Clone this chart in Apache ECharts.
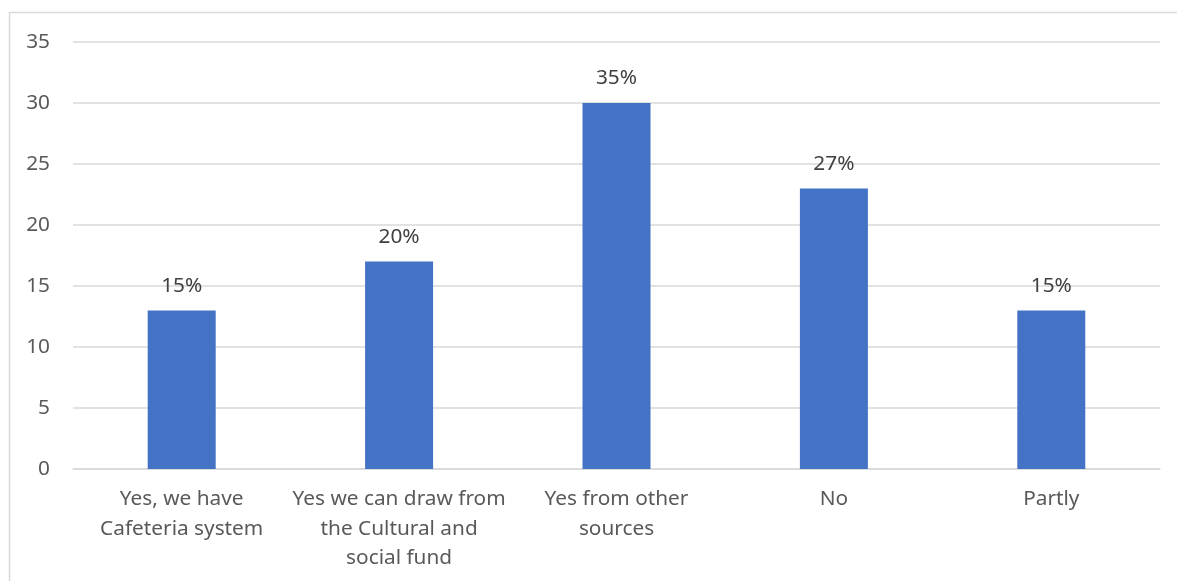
<!DOCTYPE html>
<html>
<head>
<meta charset="utf-8">
<script src="https://cdn.jsdelivr.net/npm/echarts@6/dist/echarts.min.js"></script>
<style>html,body{margin:0;padding:0;background:#fff;}#c{width:1177px;height:581px;}</style>
</head>
<body>
<div id="c"></div>
<script>
const categories = ["Yes, we have\nCafeteria system", "Yes we can draw from\nthe Cultural and\nsocial fund", "Yes from other\nsources", "No", "Partly"];
const values = [13, 17, 30, 23, 13];
const percentLabels = ["15%", "20%", "35%", "27%", "15%"];
const yMin = 0, yMax = 35, yStep = 5;

const FONT = "Noto Sans";
const FS = 20.8;
const chart = echarts.init(document.getElementById('c'), null, {renderer: 'canvas'});
chart.setOption({
  animation: false,
  textStyle: {fontFamily: FONT},
  graphic: [{
    type: 'rect',
    shape: {x: 9.5, y: 12.5, width: 1400, height: 800},
    style: {fill: 'none', stroke: '#d9d9d9', lineWidth: 1.5},
    silent: true
  }],
  grid: {left: 73, right: 17, top: 42, bottom: 112, containLabel: false},
  xAxis: {
    type: 'category', data: categories,
    axisLine: {lineStyle: {color: '#d9d9d9', width: 1.5}},
    axisTick: {show: false},
    axisLabel: {color: '#595959', fontSize: FS, fontFamily: FONT, margin: 15.5, lineHeight: 29.5, interval: 0}
  },
  yAxis: {
    type: 'value', min: yMin, max: yMax, interval: yStep,
    axisLine: {show: false}, axisTick: {show: false},
    splitLine: {lineStyle: {color: '#d9d9d9', width: 1.5}},
    axisLabel: {color: '#595959', fontSize: FS, fontFamily: FONT, margin: 23}
  },
  series: [{
    type: 'bar', data: values, barWidth: 68,
    itemStyle: {color: '#4472C4'},
    label: {
      show: true, position: 'top', distance: 14, color: '#404040', fontSize: FS, fontFamily: FONT,
      formatter: p => percentLabels[p.dataIndex]
    }
  }]
});
</script>
</body>
</html>
